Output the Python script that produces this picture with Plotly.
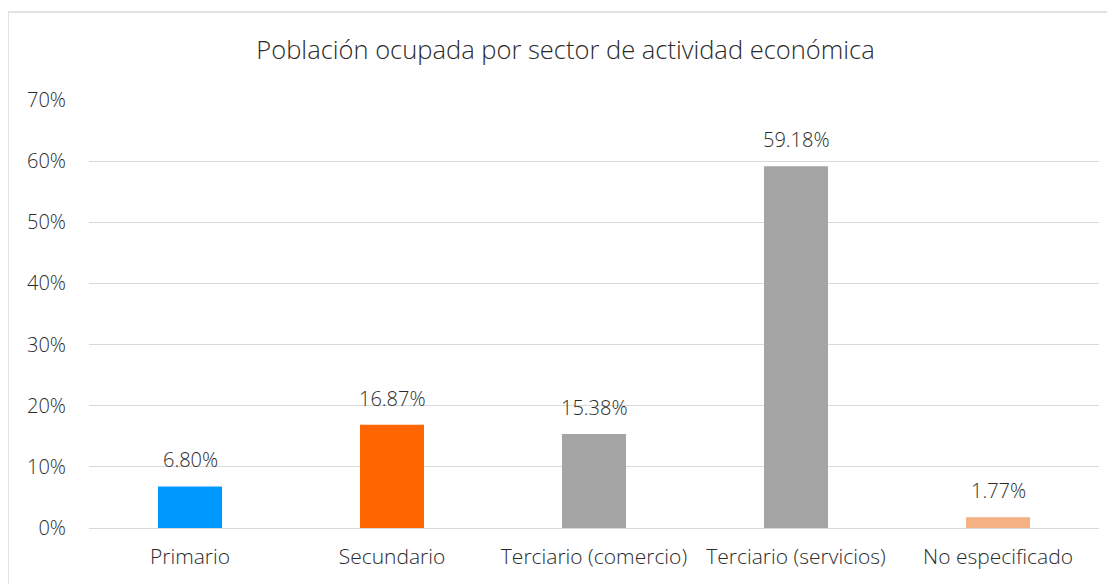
import plotly.graph_objects as go

categories = ["Primario", "Secundario", "Terciario (comercio)", "Terciario (servicios)", "No especificado"]
values = [0.0680, 0.1687, 0.1538, 0.5918, 0.0177]
labels = ["6.80%", "16.87%", "15.38%", "59.18%", "1.77%"]
colors = ["#0099FF", "#FF6600", "#A5A5A5", "#A5A5A5", "#F4B183"]

FONT = "Open Sans"
TXT = "#2B2B2B"

fig = go.Figure()
fig.add_trace(go.Bar(x=categories, y=values, marker=dict(color=colors, line=dict(width=0)),
                     width=0.317, hoverinfo="skip"))

for c, v, t in zip(categories, values, labels):
    fig.add_annotation(x=c, y=v, text=t, showarrow=False, yanchor="bottom", yshift=11,
                       font=dict(family=FONT, size=20, color=TXT, weight=300))

fig.add_shape(type="rect", xref="paper", yref="paper", x0=-0.0802, x1=1.05, y0=-0.3, y1=1.2056,
              line=dict(color="#D9D9D9", width=1.5), fillcolor="rgba(0,0,0,0)", layer="below")

fig.update_layout(
    width=1115, height=584,
    margin=dict(l=81, r=24, t=92, b=64),
    paper_bgcolor="white", plot_bgcolor="white",
    showlegend=False,
    title=dict(text="Población ocupada por sector de actividad económica", x=0.5, xanchor="center",
               y=1 - 42 / 584, yanchor="middle", font=dict(family=FONT, size=25.5, color=TXT, weight=300)),
    font=dict(family=FONT, size=20, color=TXT),
)
fig.update_yaxes(range=[0, 0.7], dtick=0.1, tickformat=".0%", showgrid=True, gridcolor="#D9D9D9",
                 gridwidth=1, zeroline=False, showline=False, ticks="", ticklabelstandoff=22,
                 tickfont=dict(family=FONT, size=20, color=TXT, weight=300))
fig.update_xaxes(showgrid=False, showline=True, linecolor="#D9D9D9", linewidth=1, ticks="",
                 ticklabelstandoff=10, tickfont=dict(family=FONT, size=21, color=TXT, weight=300))

fig.write_html("out.html")
